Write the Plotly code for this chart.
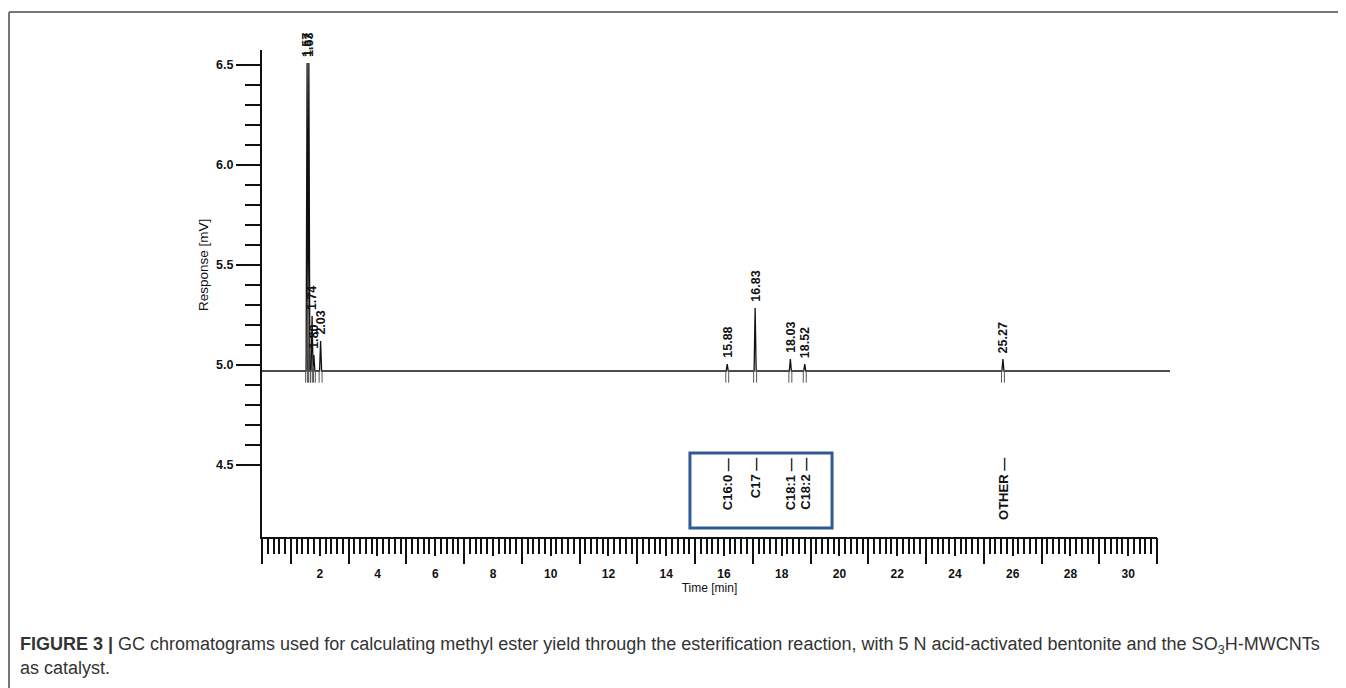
import plotly.graph_objects as go

# ---------------- data ----------------
peak_rt = [1.57, 1.63, 1.74, 1.80, 2.03, 15.88, 16.83, 18.03, 18.52, 25.27]
peak_height = [6.51, 6.51, 5.245, 5.05, 5.12, 5.005, 5.285, 5.03, 5.005, 5.03]
peak_label = ["1.57", "1.63", "1.74", "1.80", "2.03", "15.88", "16.83", "18.03", "18.52", "25.27"]
baseline = 4.97

compound_rt = [15.88, 16.83, 18.03, 18.52, 25.27]
compound_name = ["C16:0 —", "C17 —", "C18:1 —", "C18:2 —", "OTHER —"]
boxed = ["C16:0 —", "C17 —", "C18:1 —", "C18:2 —"]

x_even_ticks = list(range(2, 31, 2))
x_long_ticks = [0] + list(range(1, 32, 2))
y_major_ticks = [4.5, 5.0, 5.5, 6.0, 6.5]
y_minor_ticks = [round(4.5 + 0.1 * i, 1) for i in range(1, 20) if i % 5 != 0]

caption = ("<b>FIGURE 3 |</b> GC chromatograms used for calculating methyl ester yield through the "
           "esterification reaction, with 5 N acid-activated bentonite and the SO<sub>3</sub>H-MWCNTs")
caption2 = "as catalyst."

# ---------------- layout geometry ----------------
W, H = 1346, 688
L, R, T, B = 262, 1170, 50, 537
# trace scale (as printed) and ruler scale differ slightly in the scanned original
trace_px_per_min, trace_zero_px = 29.36, 261.0
ruler_end, ruler_end_px = 31.0, 1157
data_range = [(L - trace_zero_px) / trace_px_per_min, (R - trace_zero_px) / trace_px_per_min]
ruler_dom = (ruler_end_px - L) / (R - L)


def px(xp):
    return (xp - L) / (R - L)


def py(yp):
    return (B - yp) / (B - T)


half_w = 0.035
xs, ys = [data_range[0]], [baseline]
for rt, h in sorted(zip(peak_rt, peak_height)):
    xs += [rt - half_w, rt, rt + half_w]
    ys += [baseline, h, baseline]
xs.append(data_range[1])
ys.append(baseline)

fig = go.Figure()
# invisible traces that activate the ruler axes (drawn first, underneath)
for xa in ["x2", "x3"]:
    fig.add_trace(go.Scatter(x=[0], y=[baseline], xaxis=xa, yaxis="y", mode="markers",
                             marker=dict(opacity=0), hoverinfo="skip", showlegend=False))

fig.add_trace(go.Scatter(x=xs, y=ys, mode="lines", line=dict(color="#111", width=1.3),
                         hoverinfo="skip", showlegend=False))

# integration marks below baseline
mark_x = []
for rt in peak_rt:
    mark_x += [rt - 0.05, rt + 0.05]
fig.add_trace(go.Scatter(x=mark_x, y=[baseline - 0.027] * len(mark_x), mode="markers",
                         marker=dict(symbol="line-ns", size=9, line=dict(width=1, color="#555")),
                         hoverinfo="skip", showlegend=False))

FAM = "Liberation Sans, Arial"
tickfont = dict(family=FAM, size=12, color="#111", weight="bold")

fig.update_layout(
    width=W, height=H,
    margin=dict(l=L, r=W - R, t=T, b=H - B),
    paper_bgcolor="white", plot_bgcolor="rgba(0,0,0,0)",
    xaxis=dict(range=data_range, visible=False, domain=[0, 1], anchor="y"),
    xaxis2=dict(range=[0, ruler_end], domain=[0, ruler_dom], anchor="y", side="bottom",
                showline=True, linecolor="#111", linewidth=2, showgrid=False, zeroline=False,
                tickmode="array", tickvals=x_even_ticks, ticks="outside", ticklen=17, tickwidth=1.6,
                tickcolor="#111", tickfont=tickfont, ticklabelstandoff=8,
                minor=dict(dtick=0.2, tick0=0, ticks="outside", ticklen=15, tickwidth=1.6, tickcolor="#111"),
                title=dict(text="Time [min]", font=dict(family=FAM, size=12, color="#111"),
                           standoff=1)),
    xaxis3=dict(range=[0, ruler_end], domain=[0, ruler_dom], anchor="y", side="bottom",
                showline=False, showgrid=False, zeroline=False, showticklabels=False,
                tickmode="array", tickvals=x_long_ticks, ticks="outside", ticklen=26, tickwidth=1.8,
                tickcolor="#111"),
    yaxis=dict(range=[4.14, 6.575], showline=True, linecolor="#111", linewidth=2, showgrid=False,
               zeroline=False, tickmode="array", tickvals=y_major_ticks, tickformat=".1f",
               ticks="outside", ticklen=24, tickwidth=1.8, tickcolor="#111",
               tickfont=dict(family=FAM, size=12.5, color="#111", weight="bold"),
               minor=dict(tickmode="array", tickvals=y_minor_ticks, ticks="outside", ticklen=15,
                          tickwidth=1.8, tickcolor="#111")),
    showlegend=False,
)

annotations = []
# peak labels
for rt, h, lab in zip(peak_rt, peak_height, peak_label):
    annotations.append(dict(x=rt, y=h, xref="x", yref="y", text=lab, showarrow=False, textangle=-90,
                            xanchor="center", yanchor="bottom", yshift=4,
                            font=dict(family=FAM, size=12.5, color="#111", weight="bold")))
# compound labels
for rt, name in zip(compound_rt, compound_name):
    annotations.append(dict(x=rt, y=4.545, xref="x", yref="y", text=name, showarrow=False, textangle=-90,
                            xanchor="center", yanchor="top",
                            font=dict(family=FAM, size=13, color="#111", weight="bold")))
# axis title
annotations.append(dict(x=px(203), y=py(265), xref="paper", yref="paper", text="Response [mV]",
                        showarrow=False, textangle=-90, xanchor="center", yanchor="middle",
                        font=dict(family=FAM, size=13.5, color="#111")))
# caption
cap_font = dict(family=FAM, size=18, color="#333")
annotations.append(dict(x=px(18), y=py(645), xref="paper", yref="paper", text=caption, showarrow=False,
                        xanchor="left", yanchor="middle", align="left", font=cap_font))
annotations.append(dict(x=px(18), y=py(668), xref="paper", yref="paper", text=caption2, showarrow=False,
                        xanchor="left", yanchor="middle", align="left", font=cap_font))
fig.update_layout(annotations=annotations)

boxed_rt = [rt for rt, n in zip(compound_rt, compound_name) if n in boxed]
shapes = [
    dict(type="rect", xref="x", yref="y", x0=min(boxed_rt) - 1.27, x1=max(boxed_rt) + 0.93,
         y0=4.185, y1=4.56, line=dict(color="#2E5B96", width=3), fillcolor="rgba(0,0,0,0)"),
    dict(type="line", xref="paper", yref="paper", x0=px(9), x1=px(1338), y0=py(12), y1=py(12),
         line=dict(color="#777", width=2)),
    dict(type="line", xref="paper", yref="paper", x0=px(9), x1=px(9), y0=py(12), y1=py(H),
         line=dict(color="#777", width=2)),
]
fig.update_layout(shapes=shapes)

fig.write_html("out.html", config={"displayModeBar": False},
               post_script="document.body.style.margin='0px';")
